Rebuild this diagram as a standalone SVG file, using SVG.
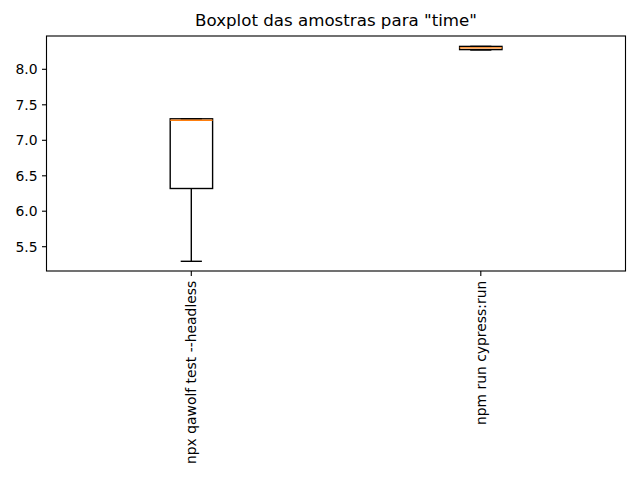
<svg xmlns="http://www.w3.org/2000/svg" width="640" height="480" viewBox="0 0 640 480">
<style>
.t{font-family:"DejaVu Sans",sans-serif;font-size:13.9px;fill:#000}
.ln{stroke:#000;stroke-width:1.39;fill:none}
.med{stroke:#ff7f0e;stroke-width:1.39}
.tick{stroke:#000;stroke-width:1.11}
</style>
<rect width="640" height="480" fill="#fff"/>
<text x="336" y="26" text-anchor="middle" style="font-family:'DejaVu Sans',sans-serif;font-size:16.67px">Boxplot das amostras para "time"</text>
<g id="yaxis">
<g class="tick">
<line x1="42" y1="69.3" x2="46.5" y2="69.3"/>
<line x1="42" y1="104.8" x2="46.5" y2="104.8"/>
<line x1="42" y1="140.3" x2="46.5" y2="140.3"/>
<line x1="42" y1="175.8" x2="46.5" y2="175.8"/>
<line x1="42" y1="211.2" x2="46.5" y2="211.2"/>
<line x1="42" y1="246.7" x2="46.5" y2="246.7"/>
</g>
<g class="t" text-anchor="end">
<text x="37.5" y="74.3">8.0</text>
<text x="37.5" y="109.8">7.5</text>
<text x="37.5" y="145.3">7.0</text>
<text x="37.5" y="180.8">6.5</text>
<text x="37.5" y="216.2">6.0</text>
<text x="37.5" y="251.7">5.5</text>
</g>
</g>
<g id="xaxis">
<g class="tick">
<line x1="191.3" y1="271" x2="191.3" y2="275.9"/>
<line x1="480.8" y1="271" x2="480.8" y2="275.9"/>
</g>
<text class="t" text-anchor="end" transform="translate(196.3,280.7) rotate(-90)">npx qawolf test --headless</text>
<text class="t" text-anchor="end" transform="translate(485.8,280.7) rotate(-90)">npm run cypress:run</text>
</g>
<g id="box1">
<rect class="ln" x="170.2" y="118.8" width="42.4" height="69.7"/>
<line class="ln" x1="191.3" y1="188.5" x2="191.3" y2="261.3"/>
<line class="ln" x1="180.7" y1="261.3" x2="201.9" y2="261.3"/>
<line class="ln" x1="180.7" y1="118.8" x2="201.9" y2="118.8"/>
<line class="med" x1="170.2" y1="120.2" x2="212.6" y2="120.2"/>
</g>
<g id="box2">
<rect class="ln" x="459.6" y="46.4" width="42.4" height="3.2"/>
<line class="ln" x1="470.2" y1="50" x2="491.4" y2="50"/>
<line class="ln" x1="470.2" y1="46.4" x2="491.4" y2="46.4"/>
<line class="med" x1="459.6" y1="47.9" x2="502" y2="47.9"/>
</g>
<rect id="axes" x="46.5" y="36" width="579" height="235" fill="none" stroke="#000" stroke-width="1.11"/>
</svg>
